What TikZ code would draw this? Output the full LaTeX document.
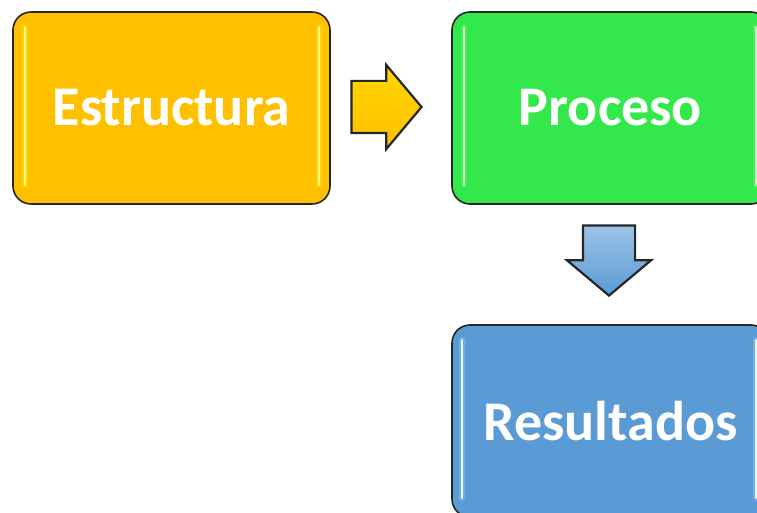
\documentclass[tikz,border=0pt]{standalone}
\usepackage{fontspec}
\setmainfont{Carlito}
\usetikzlibrary{shapes.arrows}
\definecolor{orangebox}{HTML}{FFC000}
\definecolor{greenbox}{HTML}{33E84A}
\definecolor{bluebox}{HTML}{5B9BD5}
\begin{document}
\begin{tikzpicture}[x=1pt, y=-1pt,
    box/.style={draw=black!85, line width=1.6pt, rounded corners=18pt, minimum width=317pt, minimum height=192pt, inner sep=0pt, text=white, font=\fontsize{56}{64}\selectfont\bfseries},
    glow/.style={line width=6pt, line cap=round, opacity=0.35},
    shine/.style={line width=2.5pt, line cap=round},
    blockarrow/.style={single arrow, draw=black!85, line width=2.2pt, minimum height=70pt, inner xsep=0pt, inner ysep=25pt, single arrow head extend=16pt, single arrow tip angle=100, anchor=tip}]
          \clip (0,0) rectangle (757,513);
          % boxes
          \node[box, fill=orangebox] (E) at (171.5, 108) {Estructura};
          \node[box, fill=greenbox] (P) at (610.5, 108) {Proceso};
          \node[box, fill=bluebox] (R) at (610.5, 421) {Resultados};
          % highlights
          \draw[glow, yellow] ([shift={(13,16)}]E.north west) -- ([shift={(13,-20)}]E.south west);
          \draw[shine, yellow!45!white] ([shift={(13,16)}]E.north west) -- ([shift={(13,-20)}]E.south west);
          \draw[glow, yellow] ([shift={(-12,16)}]E.north east) -- ([shift={(-12,-20)}]E.south east);
          \draw[shine, yellow!45!white] ([shift={(-12,16)}]E.north east) -- ([shift={(-12,-20)}]E.south east);
          \draw[glow, green!60!white] ([shift={(13,16)}]P.north west) -- ([shift={(13,-20)}]P.south west);
          \draw[shine, green!15!white] ([shift={(13,16)}]P.north west) -- ([shift={(13,-20)}]P.south west);
          \draw[glow, green!60!white] ([shift={(-14,16)}]P.north east) -- ([shift={(-14,-20)}]P.south east);
          \draw[shine, green!15!white] ([shift={(-14,16)}]P.north east) -- ([shift={(-14,-20)}]P.south east);
          \draw[glow, cyan!40!white] ([shift={(11,16)}]R.north west) -- ([shift={(11,-20)}]R.south west);
          \draw[shine, cyan!8!white] ([shift={(11,16)}]R.north west) -- ([shift={(11,-20)}]R.south west);
          \draw[glow, cyan!40!white] ([shift={(-14,16)}]R.north east) -- ([shift={(-14,-20)}]R.south east);
          \draw[shine, cyan!8!white] ([shift={(-14,16)}]R.north east) -- ([shift={(-14,-20)}]R.south east);
          % arrows
          \node[blockarrow, top color=yellow!35!orangebox, bottom color=orangebox] (A1) at (423, 107) {};
          \node[blockarrow, rotate=-90, top color=bluebox!60!white, bottom color=bluebox] (A2) at (609, 297) {};
        \end{tikzpicture}
\end{document}
